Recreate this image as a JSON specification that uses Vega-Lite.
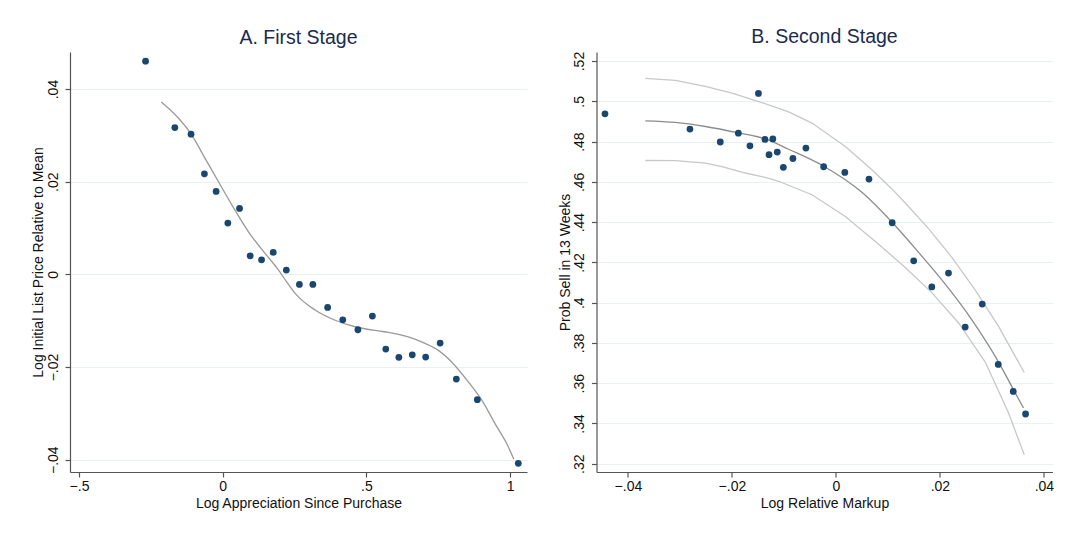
{
  "$schema": "https://vega.github.io/schema/vega-lite/v6.json",
  "background": "white",
  "padding": {"left": 31, "top": 26, "right": 16, "bottom": 10},
  "bounds": "flush",
  "spacing": 69.5,
  "config": {
    "font": "Liberation Sans",
    "view": {"stroke": null},
    "axis": {
      "labelFont": "Liberation Sans",
      "labelFontSize": 14,
      "labelColor": "#111111",
      "titleFont": "Liberation Sans",
      "titleFontSize": 14,
      "titleFontWeight": "normal",
      "titleColor": "#111111",
      "domainColor": "#555555",
      "domainWidth": 1.2,
      "tickColor": "#555555",
      "tickWidth": 1.2,
      "tickSize": 5,
      "labelFlush": false,
      "labelOverlap": false,
      "gridColor": "#e8f0f1",
      "gridWidth": 1.2,
      "format": "~g",
      "labelExpr": "replace(datum.label, '0.', '.')"
    },
    "axisX": {"grid": false, "labelPadding": 2.5, "titlePadding": 3},
    "axisY": {"grid": true, "labelAngle": 270, "labelAlign": "center", "labelBaseline": "bottom", "labelPadding": 5, "titlePadding": 0.5},
    "title": {"font": "Liberation Sans", "fontSize": 19.5, "fontWeight": "normal", "color": "#1c2b50", "anchor": "middle", "offset": 4}
  },
  "datasets": {
    "firstStage": [
      {"x": -0.2684, "y": 0.04602}, {"x": -0.1665, "y": 0.0317}, {"x": -0.1102, "y": 0.03027},
      {"x": -0.0636, "y": 0.0217}, {"x": -0.0229, "y": 0.0179}, {"x": 0.0179, "y": 0.01107},
      {"x": 0.0586, "y": 0.01424}, {"x": 0.0957, "y": 0.00401}, {"x": 0.1352, "y": 0.00315},
      {"x": 0.1759, "y": 0.00475}, {"x": 0.2214, "y": 0.00093}, {"x": 0.2669, "y": -0.00216},
      {"x": 0.3137, "y": -0.00216}, {"x": 0.3651, "y": -0.00712}, {"x": 0.4178, "y": -0.0098},
      {"x": 0.4705, "y": -0.01195}, {"x": 0.5208, "y": -0.009}, {"x": 0.5674, "y": -0.01612},
      {"x": 0.613, "y": -0.0179}, {"x": 0.6596, "y": -0.01735}, {"x": 0.7062, "y": -0.01784},
      {"x": 0.7566, "y": -0.01482}, {"x": 0.8129, "y": -0.02259}, {"x": 0.886, "y": -0.02705},
      {"x": 1.0285, "y": -0.04078}
    ],
    "firstStageFit": [
      {"x": -0.2138, "y": 0.0372}, {"x": -0.1537, "y": 0.0337}, {"x": -0.1109, "y": 0.0304},
      {"x": -0.0608, "y": 0.025}, {"x": -0.0146, "y": 0.02}, {"x": 0.0317, "y": 0.015},
      {"x": 0.0897, "y": 0.0092}, {"x": 0.1478, "y": 0.0045}, {"x": 0.19, "y": 0.0013},
      {"x": 0.2214, "y": -0.0015}, {"x": 0.2521, "y": -0.0041}, {"x": 0.3216, "y": -0.0077},
      {"x": 0.3912, "y": -0.0099}, {"x": 0.4607, "y": -0.0113}, {"x": 0.5417, "y": -0.0122},
      {"x": 0.5765, "y": -0.0125}, {"x": 0.646, "y": -0.0135}, {"x": 0.7041, "y": -0.0149},
      {"x": 0.7504, "y": -0.0164}, {"x": 0.7966, "y": -0.0189}, {"x": 0.8547, "y": -0.0232},
      {"x": 0.9009, "y": -0.0271}, {"x": 0.9475, "y": -0.0322}, {"x": 0.9937, "y": -0.0372},
      {"x": 1.0129, "y": -0.0399}
    ],
    "secondStage": [
      {"x": -0.04441, "y": 0.4938}, {"x": -0.02807, "y": 0.4862}, {"x": -0.02224, "y": 0.4798},
      {"x": -0.01876, "y": 0.4842}, {"x": -0.01653, "y": 0.4779}, {"x": -0.0149, "y": 0.5039},
      {"x": -0.01365, "y": 0.4811}, {"x": -0.01213, "y": 0.4813}, {"x": -0.01286, "y": 0.4735},
      {"x": -0.01128, "y": 0.4748}, {"x": -0.01011, "y": 0.4672}, {"x": -0.00827, "y": 0.4716},
      {"x": -0.00577, "y": 0.4768}, {"x": -0.00236, "y": 0.4675}, {"x": 0.00171, "y": 0.4647},
      {"x": 0.00636, "y": 0.4614}, {"x": 0.01082, "y": 0.4397}, {"x": 0.01496, "y": 0.4208},
      {"x": 0.01844, "y": 0.4078}, {"x": 0.02165, "y": 0.4147}, {"x": 0.02486, "y": 0.3879},
      {"x": 0.02814, "y": 0.3993}, {"x": 0.03122, "y": 0.3693}, {"x": 0.0341, "y": 0.3559},
      {"x": 0.03647, "y": 0.3447}
    ],
    "secondStageFit": [
      {"band": "fit", "x": -0.03664, "y": 0.4903}, {"band": "fit", "x": -0.03087, "y": 0.4895},
      {"band": "fit", "x": -0.02511, "y": 0.4875}, {"band": "fit", "x": -0.0187, "y": 0.4843},
      {"band": "fit", "x": -0.01357, "y": 0.4813}, {"band": "fit", "x": -0.00909, "y": 0.4762},
      {"band": "fit", "x": -0.00242, "y": 0.4679}, {"band": "fit", "x": 0.005, "y": 0.4548},
      {"band": "fit", "x": 0.01084, "y": 0.4398}, {"band": "fit", "x": 0.0159, "y": 0.425},
      {"band": "fit", "x": 0.02103, "y": 0.4092}, {"band": "fit", "x": 0.02614, "y": 0.3915},
      {"band": "fit", "x": 0.03128, "y": 0.3705}, {"band": "fit", "x": 0.03416, "y": 0.3567},
      {"band": "fit", "x": 0.03608, "y": 0.3477},
      {"band": "upper", "x": -0.03664, "y": 0.5114}, {"band": "upper", "x": -0.03087, "y": 0.5104},
      {"band": "upper", "x": -0.02511, "y": 0.5074}, {"band": "upper", "x": -0.01998, "y": 0.5041},
      {"band": "upper", "x": -0.01486, "y": 0.4999}, {"band": "upper", "x": -0.00909, "y": 0.4948},
      {"band": "upper", "x": -0.00461, "y": 0.4892}, {"band": "upper", "x": 0.00181, "y": 0.4776},
      {"band": "upper", "x": 0.00692, "y": 0.466}, {"band": "upper", "x": 0.01077, "y": 0.4565},
      {"band": "upper", "x": 0.01334, "y": 0.4495}, {"band": "upper", "x": 0.01782, "y": 0.4368},
      {"band": "upper", "x": 0.0223, "y": 0.4225}, {"band": "upper", "x": 0.0268, "y": 0.4062},
      {"band": "upper", "x": 0.03128, "y": 0.3882}, {"band": "upper", "x": 0.03622, "y": 0.3653},
      {"band": "lower", "x": -0.03664, "y": 0.4706}, {"band": "lower", "x": -0.03087, "y": 0.4705},
      {"band": "lower", "x": -0.02511, "y": 0.4693}, {"band": "lower", "x": -0.02191, "y": 0.4676},
      {"band": "lower", "x": -0.01741, "y": 0.4644}, {"band": "lower", "x": -0.01357, "y": 0.4622},
      {"band": "lower", "x": -0.01101, "y": 0.4603}, {"band": "lower", "x": -0.00461, "y": 0.4536},
      {"band": "lower", "x": 0.00181, "y": 0.4428}, {"band": "lower", "x": 0.00821, "y": 0.429},
      {"band": "lower", "x": 0.01334, "y": 0.4175}, {"band": "lower", "x": 0.01845, "y": 0.405},
      {"band": "lower", "x": 0.02359, "y": 0.3899}, {"band": "lower", "x": 0.02872, "y": 0.3705},
      {"band": "lower", "x": 0.0332, "y": 0.3452}, {"band": "lower", "x": 0.03622, "y": 0.3245}
    ]
  },
  "hconcat": [
    {
      "width": 457,
      "height": 420,
      "title": "A. First Stage",
      "layer": [
        {
          "data": {"name": "firstStageFit"},
          "mark": {"type": "line", "color": "#9a9a9a", "strokeWidth": 1.3, "interpolate": "monotone"},
          "encoding": {
            "x": {"field": "x", "type": "quantitative", "sort": null},
            "y": {"field": "y", "type": "quantitative"}
          }
        },
        {
          "data": {"name": "firstStage"},
          "mark": {"type": "circle", "size": 46, "color": "#1a476f", "opacity": 1},
          "encoding": {
            "x": {
              "field": "x", "type": "quantitative",
              "scale": {"domain": [-0.5313, 1.0588], "nice": false, "zero": false},
              "axis": {"title": "Log Appreciation Since Purchase", "values": [-0.5, 0, 0.5, 1]}
            },
            "y": {
              "field": "y", "type": "quantitative",
              "scale": {"domain": [-0.04265, 0.048], "nice": false, "zero": false},
              "axis": {"title": "Log Initial List Price Relative to Mean", "values": [-0.04, -0.02, 0, 0.02, 0.04]}
            }
          }
        }
      ]
    },
    {
      "width": 456,
      "height": 420,
      "title": "B. Second Stage",
      "layer": [
        {
          "data": {"name": "secondStageFit"},
          "transform": [{"filter": "datum.band !== 'fit'"}],
          "mark": {"type": "line", "color": "#c8c8c8", "strokeWidth": 1.3},
          "encoding": {
            "x": {"field": "x", "type": "quantitative", "sort": null},
            "y": {"field": "y", "type": "quantitative"},
            "detail": {"field": "band", "type": "nominal"}
          }
        },
        {
          "data": {"name": "secondStageFit"},
          "transform": [{"filter": "datum.band === 'fit'"}],
          "mark": {"type": "line", "color": "#8c8c8c", "strokeWidth": 1.3, "interpolate": "monotone"},
          "encoding": {
            "x": {"field": "x", "type": "quantitative", "sort": null},
            "y": {"field": "y", "type": "quantitative"}
          }
        },
        {
          "data": {"name": "secondStage"},
          "mark": {"type": "circle", "size": 46, "color": "#1a476f", "opacity": 1},
          "encoding": {
            "x": {
              "field": "x", "type": "quantitative",
              "scale": {"domain": [-0.04604, 0.04165], "nice": false, "zero": false},
              "axis": {"title": "Log Relative Markup", "values": [-0.04, -0.02, 0, 0.02, 0.04]}
            },
            "y": {
              "field": "y", "type": "quantitative",
              "scale": {"domain": [0.3159, 0.5245], "nice": false, "zero": false},
              "axis": {"title": "Prob Sell in 13 Weeks", "values": [0.32, 0.34, 0.36, 0.38, 0.4, 0.42, 0.44, 0.46, 0.48, 0.5, 0.52]}
            }
          }
        }
      ]
    }
  ]
}
